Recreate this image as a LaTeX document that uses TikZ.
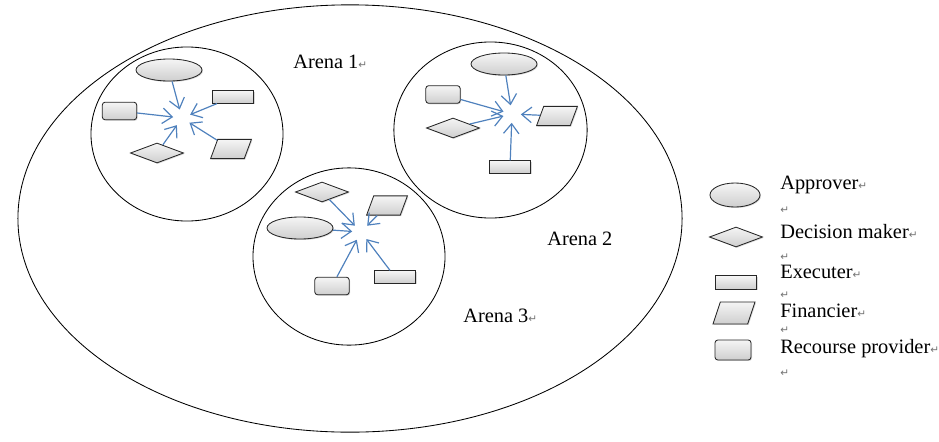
\documentclass[tikz,border=0pt]{standalone}
\usepackage{fontspec}
\setmainfont{Liberation Serif}
\newfontfamily\markfont{DejaVu Sans}
\usetikzlibrary{shapes.geometric,arrows.meta,shadows}

\definecolor{flowblue}{RGB}{79,129,189}
\newcommand{\pmark}{{\markfont\fontsize{7.5}{8}\selectfont\color{black!55}↵}}

\tikzset{
	role/.style={draw=black!85, line width=0.6pt, top color=gray!8, bottom color=gray!38,
		drop shadow={shadow xshift=0.7pt, shadow yshift=-0.7pt, opacity=0.3}, inner sep=0pt},
	approver/.style={role, ellipse, minimum width=1.65cm, minimum height=0.55cm},
	decider/.style={role, diamond, minimum width=1.33cm, minimum height=0.5cm},
	executer/.style={role, rectangle, minimum width=1.03cm, minimum height=0.31cm},
	financier/.style={role, trapezium, trapezium left angle=75, trapezium right angle=105,
		trapezium stretches=true, inner sep=2pt, minimum width=1.02cm, minimum height=0.48cm},
	provider/.style={role, rectangle, rounded corners=2pt, minimum width=0.86cm, minimum height=0.44cm},
	arena/.style={draw, ellipse, line width=0.6pt, inner sep=0pt},
	flow/.style={draw=flowblue, line width=0.85pt, -{Straight Barb[length=7pt,width=11pt]}, shorten >=0.22cm},
	txt/.style={anchor=base west, inner sep=0pt, font=\fontsize{14.5}{16}\selectfont}
}

\begin{document}
\begin{tikzpicture}[x=0.025cm, y=-0.025cm]
		\useasboundingbox (0, 0) rectangle (939, 441);
		
		% arenas
		\node[arena, minimum width=16.6cm, minimum height=10.68cm] (world) at (350, 218.5) {};
		\node[arena, minimum width=4.8cm, minimum height=4.35cm] (arena1) at (187, 134) {};
		\node[arena, minimum width=4.83cm, minimum height=4.4cm] (arena2) at (490.5, 130) {};
		\node[arena, minimum width=4.8cm, minimum height=4.43cm] (arena3) at (349, 256.5) {};
		
		\node[txt] (name1) at (293, 68) {Arena 1\pmark};
		\node[txt] (name2) at (547, 245) {Arena 2};
		\node[txt] (name3) at (463, 322) {Arena 3\pmark};
		
		% arena 1
		\node[approver] (a1app) at (169, 70) {};
		\node[provider] (a1pro) at (119.5, 111) {};
		\node[executer] (a1exe) at (233, 97) {};
		\node[decider] (a1dec) at (157, 153) {};
		\node[financier] (a1fin) at (231, 149) {};
		\coordinate (hub1) at (182, 118);
		
		\draw[flow] (a1app) -- (hub1);
		\draw[flow] (a1pro) -- (hub1);
		\draw[flow] (a1exe) -- (hub1);
		\draw[flow] (a1dec) -- (hub1);
		\draw[flow] (a1fin) -- (hub1);
		
		% arena 2
		\node[approver] (a2app) at (504, 64) {};
		\node[provider] (a2pro) at (443, 94.5) {};
		\node[decider] (a2dec) at (453, 128) {};
		\node[financier] (a2fin) at (557, 116) {};
		\node[executer] (a2exe) at (510, 167) {};
		\coordinate (hub2) at (512, 114);
		
		\draw[flow] (a2app) -- (hub2);
		\draw[flow] (a2pro) -- (hub2);
		\draw[flow] (a2dec) -- (hub2);
		\draw[flow] (a2fin) -- (hub2);
		\draw[flow] (a2exe) -- (hub2);
		
		% arena 3
		\node[decider] (a3dec) at (322, 192) {};
		\node[financier] (a3fin) at (387, 205.5) {};
		\node[approver] (a3app) at (300, 228) {};
		\node[provider] (a3pro) at (332, 286) {};
		\node[executer] (a3exe) at (395, 277) {};
		\coordinate (hub3) at (361, 232);
		
		\draw[flow] (a3dec) -- (hub3);
		\draw[flow] (a3fin) -- (hub3);
		\draw[flow] (a3app) -- (hub3);
		\draw[flow] (a3pro) -- (hub3);
		\draw[flow] (a3exe) -- (hub3);
		
		% legend
		\node[approver, minimum width=1.25cm, minimum height=0.6cm] (lapp) at (735, 195) {};
		\node[decider] (ldec) at (736, 237) {};
		\node[executer, minimum height=0.33cm] (lexe) at (736, 282.5) {};
		\node[financier, minimum width=1.05cm, minimum height=0.55cm] (lfin) at (734, 313) {};
		\node[provider, minimum width=0.9cm, minimum height=0.5cm] (lpro) at (733, 350) {};
		
		\node[txt] (tapp) at (780, 189) {Approver\pmark};
		\node[txt] (gap1) at (780, 213) {\pmark};
		\node[txt] (tdec) at (780, 238) {Decision maker\pmark};
		\node[txt] (gap2) at (780, 260) {\pmark};
		\node[txt] (texe) at (780, 278) {Executer\pmark};
		\node[txt] (gap3) at (780, 298) {\pmark};
		\node[txt] (tfin) at (780, 317) {Financier\pmark};
		\node[txt] (gap4) at (780, 333) {\pmark};
		\node[txt] (tpro) at (780, 353) {Recourse provider\pmark};
		\node[txt] (gap5) at (780, 376) {\pmark};
	\end{tikzpicture}
\end{document}
